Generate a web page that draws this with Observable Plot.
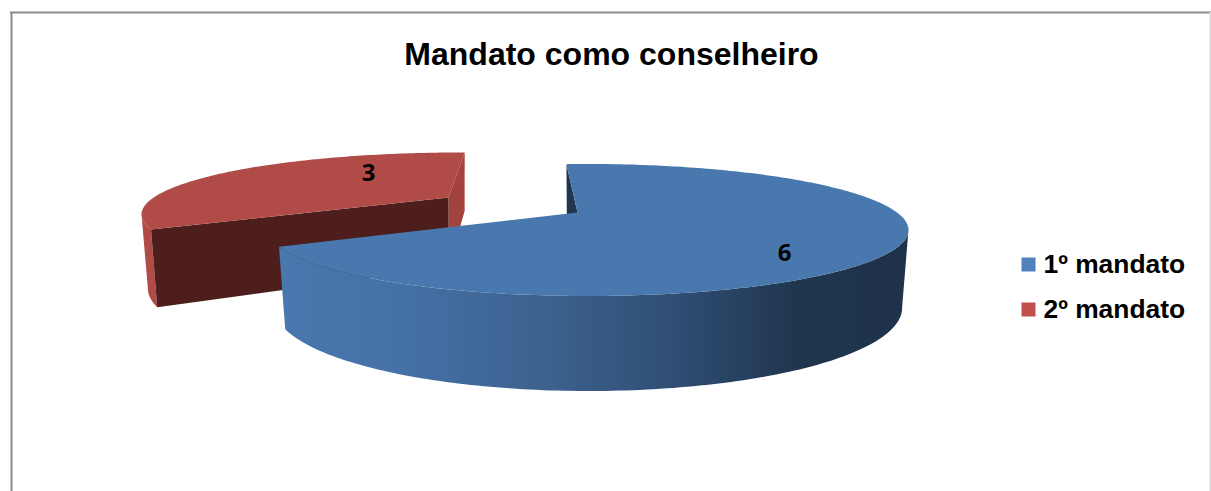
<!DOCTYPE html>
<html>
<head>
<meta charset="utf-8">
<script src="https://cdn.jsdelivr.net/npm/d3@7"></script>
<script src="https://cdn.jsdelivr.net/npm/@observablehq/plot@0.6"></script>
<style>html,body{margin:0;padding:0;background:#fff}</style>
</head>
<body>
<div id="chart"></div>
<script>
// Data
const titleText = "Mandato como conselheiro";
const categories = ["1º mandato", "2º mandato"];
const values = [6, 3];
const legendColors = ["#4f81bd", "#c0504d"];

// Styling of the 3-D pie slices
const total = d3.sum(values);
const sweep = values.map(v => v / total * 360);
const geom = [
  {cx: 588, cy: 229.5, rx: 320, ry: 66, ax: 577, ay: 212, start: -2.7, spread: 1.015, d0: 78, d1: 17,
   top: "#4878ae", wall: "url(#blueWall)", cutA: "#1f3550", cutB: "#1f3550"},
  {cx: 460, cy: 214, rx: 319, ry: 62, ax: 448, ay: 197, start: 241, spread: 1.025, d0: 74, d1: 15.5,
   top: "#b04b47", wall: "#b04b47", cutA: "#a4423f", cutB: "#4d1e1c"}
];
const lowerShrink = 0.98;

// Point on the rim of a slice: ray from the apex at angle deg, in the ellipse's unit space
function rim(g, deg) {
  const t = deg * Math.PI / 180, dx = Math.sin(t), dy = -Math.cos(t);
  const ux = (g.ax - g.cx) / g.rx, uy = (g.ay - g.cy) / g.ry;
  const b = ux * dx + uy * dy, c = ux * ux + uy * uy - 1;
  const s = -b + Math.sqrt(b * b - c);
  return {x: g.cx + (ux + s * dx) * g.rx, y: g.cy + (uy + s * dy) * g.ry};
}
function lower(g, p) {
  const v = (p.y - g.cy) / g.ry;
  return {x: g.cx + (p.x - g.cx) * lowerShrink, y: p.y + g.d0 + g.d1 * v};
}
function arc(g, a0, a1) {
  const n = Math.ceil(Math.abs(a1 - a0));
  return d3.range(n + 1).map(i => rim(g, a0 + (a1 - a0) * i / n));
}
function parts(g, span, visibleRim) {
  const a0 = g.start, a1 = g.start + span * g.spread, A = {x: g.ax, y: g.ay};
  const top = arc(g, a0, a1);
  const front = visibleRim(top);
  return {
    top: [A, ...top],
    wall: [...front, ...front.map(p => lower(g, p)).reverse()],
    cutStart: [A, top[0], lower(g, top[0]), lower(g, A)],
    cutEnd: [A, top[top.length - 1], lower(g, top[top.length - 1]), lower(g, A)]
  };
}
const face = (pts, fill) => Plot.line(pts, {x: "x", y: "y", fill, stroke: "none", curve: "linear"});
// Only the part of the outer wall facing the viewer is drawn
const blue = parts(geom[0], sweep[0], t => t.slice(d3.greatestIndex(t, p => p.x)));
const red = parts(geom[1], sweep[1], t => t.slice(0, d3.leastIndex(t, p => p.x) + 1));

const gradient = () => {
  const ns = "http://www.w3.org/2000/svg";
  const defs = document.createElementNS(ns, "defs");
  const lg = document.createElementNS(ns, "linearGradient");
  lg.setAttribute("id", "blueWall");
  [[0, "#4878ae"], [0.2, "#4570a5"], [0.42, "#3c628f"], [0.62, "#304f75"], [0.82, "#20364f"], [1, "#1e324a"]]
    .forEach(([o, c]) => {
      const s = document.createElementNS(ns, "stop");
      s.setAttribute("offset", o);
      s.setAttribute("stop-color", c);
      lg.appendChild(s);
    });
  defs.appendChild(lg);
  return defs;
};

const chart = Plot.plot({
  width: 1211, height: 491,
  margin: 0,
  x: {domain: [0, 1211], range: [0, 1211], axis: null},
  y: {domain: [0, 491], range: [0, 491], axis: null},
  style: {background: "#fff"},
  marks: [
    gradient,
    // frame
    Plot.ruleX([11], {y1: 12, y2: 491, stroke: "#8c8c8c", strokeWidth: 2}),
    Plot.ruleY([12], {x1: 10, x2: 1211, stroke: "#8c8c8c", strokeWidth: 2}),
    Plot.ruleX([1210], {y1: 12, y2: 491, stroke: "#d9d9d9", strokeWidth: 2}),
    // red slice
    face(red.wall, geom[1].wall),
    face(red.cutEnd, geom[1].cutA),
    face(red.cutStart, geom[1].cutB),
    face(red.top, geom[1].top),
    // blue slice
    face(blue.cutStart, geom[0].cutA),
    face(blue.wall, geom[0].wall),
    face(blue.top, geom[0].top),
    // title
    Plot.text([titleText], {x: 611, y: 54, text: d => d, fontSize: 32, fontWeight: "bold",
      fontFamily: "Liberation Sans", fill: "#000"}),
    // value labels
    Plot.text([values[1]], {x: 368, y: 173, text: d => String(d), fontSize: 24, fontWeight: "bold",
      fontFamily: "Open Sans", fill: "#000"}),
    Plot.text([values[0]], {x: 784, y: 253, text: d => String(d), fontSize: 24, fontWeight: "bold",
      fontFamily: "Open Sans", fill: "#000"}),
    // legend
    Plot.dot(categories, {x: 1028, y: (d, i) => 264 + i * 45, symbol: "square", r: 7.9,
      fill: (d, i) => legendColors[i], stroke: "none"}),
    Plot.text(categories, {x: 1043, y: (d, i) => 264 + i * 45, text: d => d, textAnchor: "start",
      fontSize: 26.4, fontWeight: "bold", fontFamily: "Liberation Sans", fill: "#000"})
  ]
});
document.getElementById("chart").appendChild(chart);
</script>
</body>
</html>
